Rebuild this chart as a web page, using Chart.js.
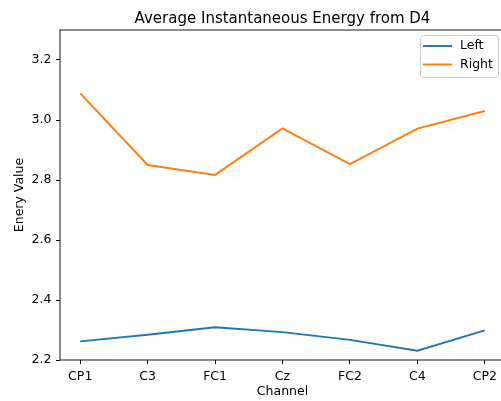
<!DOCTYPE html>
<html>
<head>
<meta charset="utf-8">
<script src="https://cdn.jsdelivr.net/npm/chart.js@4"></script>
<style>
    html, body { margin: 0; padding: 0; background: #fff; overflow: hidden; }
    #wrap { width: 512px; height: 401px; }
</style>
</head>
<body>
<div id="wrap"><canvas id="chart" width="512" height="401"></canvas></div>
<script>
const channels = ['CP1', 'C3', 'FC1', 'Cz', 'FC2', 'C4', 'CP2'];
const leftValues = [2.262, 2.284, 2.309, 2.293, 2.267, 2.231, 2.299];
const rightValues = [3.089, 2.850, 2.817, 2.972, 2.853, 2.971, 3.030];
const yTicks = [2.2, 2.4, 2.6, 2.8, 3.0, 3.2];
const titleText = 'Average Instantaneous Energy from D4';

const FONT = 'DejaVu Sans';

function toPoints(values) {
    return values.map((v, i) => ({ x: i, y: v }));
}

// matplotlib-like frame, title over the axes and legend box in the top right corner
const framePlugin = {
    id: 'frame',
    afterDraw(chart) {
        const { ctx, chartArea } = chart;
        ctx.save();
        ctx.strokeStyle = '#000';
        ctx.lineWidth = 0.9;
        ctx.strokeRect(chartArea.left, chartArea.top,
            chartArea.right - chartArea.left, chartArea.bottom - chartArea.top);

        ctx.fillStyle = '#000';
        ctx.font = '15px "' + FONT + '"';
        ctx.textAlign = 'center';
        ctx.textBaseline = 'alphabetic';
        ctx.fillText(titleText, (chartArea.left + chartArea.right) / 2, chartArea.top - 7);

        const boxRight = chartArea.right - 7;
        const boxLeft = boxRight - 78;
        const boxTop = chartArea.top + 5;
        const boxBottom = boxTop + 42;
        ctx.beginPath();
        ctx.roundRect(boxLeft + 0.5, boxTop + 0.5, boxRight - boxLeft, boxBottom - boxTop, 3);
        ctx.fillStyle = 'rgba(255,255,255,0.8)';
        ctx.fill();
        ctx.strokeStyle = '#cccccc';
        ctx.lineWidth = 1;
        ctx.stroke();

        ctx.font = '12.5px "' + FONT + '"';
        ctx.textAlign = 'left';
        ctx.textBaseline = 'middle';
        chart.data.datasets.forEach((ds, i) => {
            const y = boxTop + 11 + i * 18.5;
            ctx.beginPath();
            ctx.moveTo(boxLeft + 3, y);
            ctx.lineTo(boxLeft + 32, y);
            ctx.strokeStyle = ds.borderColor;
            ctx.lineWidth = 1.9;
            ctx.stroke();
            ctx.fillStyle = '#000';
            ctx.fillText(ds.label, boxLeft + 40, y);
        });
        ctx.restore();
    },
};

Chart.defaults.color = '#000';
Chart.defaults.font.family = FONT;
Chart.defaults.font.size = 12.5;

const chart = new Chart(document.getElementById('chart'), {
    type: 'line',
    data: {
        datasets: [
            {
                label: 'Left',
                data: toPoints(leftValues),
                borderColor: '#1f77b4',
                backgroundColor: '#1f77b4',
                borderWidth: 1.9,
                pointRadius: 0,
                tension: 0,
            },
            {
                label: 'Right',
                data: toPoints(rightValues),
                borderColor: '#ff7f0e',
                backgroundColor: '#ff7f0e',
                borderWidth: 1.9,
                pointRadius: 0,
                tension: 0,
            },
        ],
    },
    options: {
        responsive: false,
        animation: false,
        events: [],
        layout: { padding: { left: 0, right: 7, top: 30, bottom: 0 } },
        plugins: {
            legend: { display: false },
            tooltip: { enabled: false },
            title: { display: false },
        },
        scales: {
            x: {
                type: 'linear',
                min: -0.3,
                max: channels.length - 1 + 0.3,
                afterBuildTicks(scale) {
                    scale.ticks = channels.map((c, i) => ({ value: i }));
                },
                afterFit(scale) {
                    scale.height = 41;
                },
                ticks: {
                    autoSkip: false,
                    maxRotation: 0,
                    padding: 5,
                    callback: (value) => channels[value],
                },
                grid: {
                    display: true,
                    drawOnChartArea: false,
                    drawTicks: true,
                    tickLength: 4,
                    color: '#000',
                },
                border: { display: false },
                title: {
                    display: true,
                    text: 'Channel',
                    padding: { top: 0, bottom: 2 },
                },
            },
            y: {
                min: 2.2,
                max: 3.3,
                afterBuildTicks(scale) {
                    scale.ticks = yTicks.map((v) => ({ value: v }));
                },
                afterFit(scale) {
                    scale.width = 60;
                },
                ticks: {
                    padding: 4.5,
                    callback: (value) => value.toFixed(1),
                },
                grid: {
                    display: true,
                    drawOnChartArea: false,
                    drawTicks: true,
                    tickLength: 4,
                    color: '#000',
                },
                border: { display: false },
                title: {
                    display: true,
                    text: 'Enery Value',
                    padding: { top: 12.5, bottom: 0 },
                },
            },
        },
    },
    plugins: [framePlugin],
});
</script>
</body>
</html>
